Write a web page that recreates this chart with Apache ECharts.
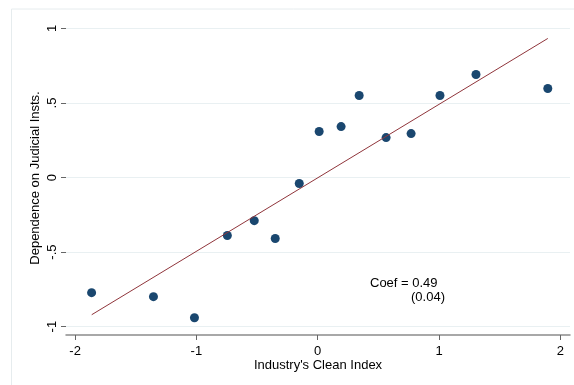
<!DOCTYPE html>
<html>
<head>
<meta charset="utf-8">
<title>Clean index vs judicial dependence</title>
<script src="https://cdn.jsdelivr.net/npm/echarts@6/dist/echarts.min.js"></script>
<style>
body{margin:0;background:#fff;}
#main{width:574px;height:385px;}
</style>
</head>
<body>
<div id="main"></div>
<script>
// industry clean index (x) and dependence on judicial insts (y)
var cleanIdx = [-1.864,-1.354,-1.016,-0.745,-0.523,-0.350,-0.152,0.012,0.193,0.342,0.564,0.770,1.008,1.305,1.897];
var judicial = [-0.772,-0.799,-0.940,-0.389,-0.289,-0.409,-0.040,0.309,0.342,0.550,0.268,0.295,0.550,0.691,0.597];
// fitted line ends
var fitX = [-1.863, 1.897];
var fitY = [-0.920, 0.933];
var xTicks = [-2,-1,0,1,2];
var yTicks = [-1,-0.5,0,0.5,1];
var yTickText = ['-1','-.5','0','.5','1'];

var pts = [];
for (var i=0;i<cleanIdx.length;i++) pts.push([cleanIdx[i], judicial[i]]);
var fit = [];
for (var j=0;j<fitX.length;j++) fit.push([fitX[j], fitY[j]]);

var font = 'Liberation Sans, Arial, sans-serif';
var myChart = echarts.init(document.getElementById('main'));
var option = {
	animation: false,
	backgroundColor: '#fff',
	grid: {left:66, right:4, top:21, bottom:50},
	xAxis: {
		type: 'value', min: -2.075, max: 2.08,
		name: "Industry's Clean Index", nameLocation: 'middle', nameGap: 24, nameMoveOverlap: false,
		nameTextStyle: {fontFamily: font, fontSize: 13, color: '#000'},
		splitLine: {show: false},
		axisLine: {show: true, onZero: false, lineStyle: {color: '#8c8c8c', width: 1.5}},
		axisTick: {show: true, length: 5, customValues: xTicks, lineStyle: {color: '#666'}},
		axisLabel: {customValues: xTicks, margin: 10, fontFamily: font, fontSize: 13, color: '#000',
			formatter: function(v){ return String(v); }}
	},
	yAxis: {
		type: 'value', min: -1.056, max: 1.05,
		name: 'Dependence on Judicial Insts.', nameLocation: 'middle', nameGap: 24, nameMoveOverlap: false,
		nameTextStyle: {fontFamily: font, fontSize: 13, color: '#000'},
		splitLine: {show: true, lineStyle: {color: '#e9f0f2', width: 1}},
		axisLine: {show: false, onZero: false},
		axisTick: {show: true, length: 5, customValues: yTicks, lineStyle: {color: '#666'}},
		axisLabel: {customValues: yTicks, rotate: 90, margin: 7, fontFamily: font, fontSize: 13, color: '#000',
			formatter: function(v){
				var k = yTicks.indexOf(v);
				return k >= 0 ? yTickText[k] : '';
			}}
	},
	series: [{
		type: 'scatter',
		data: pts,
		symbolSize: 9,
		z: 2,
		itemStyle: {color: '#1a476f', opacity: 1}
	}, {
		type: 'line',
		data: fit,
		showSymbol: false,
		symbol: 'none',
		lineStyle: {color: '#90353b', width: 1},
		z: 3
	}],
	graphic: [
		{type: 'rect', left: 9, top: 6.5, shape: {width: 600, height: 400}, silent: true, z: -10,
			style: {fill: 'none', stroke: '#e6ecee', lineWidth: 1}},
		{type: 'text', left: 370, top: 277, style: {text: 'Coef = 0.49', font: '13px ' + font, fill: '#000'}},
		{type: 'text', left: 411, top: 291, style: {text: '(0.04)', font: '13px ' + font, fill: '#000'}}
	]
};
myChart.setOption(option);
</script>
</body>
</html>
